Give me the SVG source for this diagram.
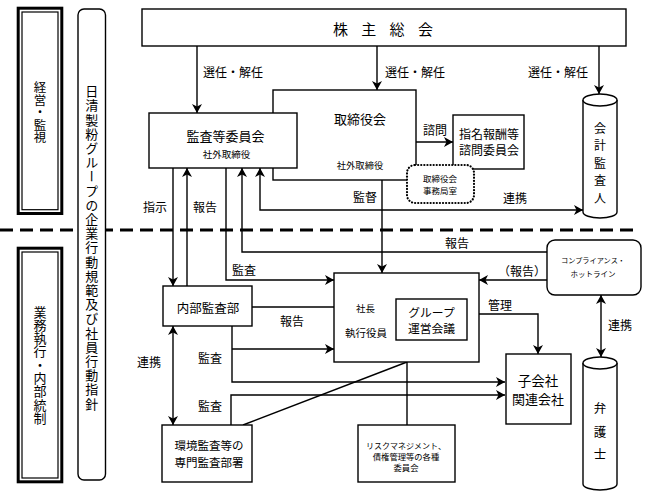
<svg xmlns="http://www.w3.org/2000/svg" width="648" height="497" viewBox="0 0 648 497">
<style>
text{font-family:"Noto Sans CJK JP","Noto Sans",sans-serif;fill:#000}
.box{fill:#fff;stroke:#000;stroke-width:1.4}
.ln{fill:none;stroke:#000;stroke-width:1.4}
.arr{marker-end:url(#ah)}
.arr2{marker-start:url(#ah);marker-end:url(#ah)}
.vt{writing-mode:vertical-rl;text-anchor:middle}
.c{text-anchor:middle}
.l12{font-size:12px}
</style>
<defs>
<marker id="ah" viewBox="0 0 9 10" refX="9" refY="5" markerWidth="9" markerHeight="10" markerUnits="userSpaceOnUse" orient="auto-start-reverse">
<path d="M0,0 L9,5 L0,10 L2.5,5 z" fill="#000"/>
</marker>
</defs>
<rect width="648" height="497" fill="#fff"/>

<line x1="0" y1="230" x2="640" y2="230" stroke="#000" stroke-width="3" stroke-dasharray="13 7"/>

<g id="side-top">
<rect x="18.2" y="8.2" width="43.6" height="205.3" fill="#fff" stroke="#000" stroke-width="3"/>
<rect x="22" y="12" width="36" height="197.7" fill="none" stroke="#000" stroke-width="1.2"/>
<text class="vt" x="40" y="112.5" font-size="12.5">経営・監視</text>
</g>
<g id="side-bottom">
<rect x="18.2" y="248.2" width="43.6" height="233.6" fill="#fff" stroke="#000" stroke-width="3"/>
<rect x="22" y="252" width="36" height="226" fill="none" stroke="#000" stroke-width="1.2"/>
<text class="vt" x="40" y="365" font-size="13" letter-spacing="0.3">業務執行・内部統制</text>
</g>
<g id="code-of-conduct">
<rect x="78" y="9" width="27.5" height="471" rx="6" class="box"/>
<text class="vt" x="91.8" y="248" font-size="13" letter-spacing="1.2">日清製粉グループの企業行動規範及び社員行動指針</text>
</g>

<g id="connectors">
<line class="ln arr" x1="197" y1="46" x2="197" y2="113"/>
<line class="ln arr" x1="377" y1="46" x2="377" y2="90"/>
<line class="ln arr" x1="599" y1="46" x2="599" y2="94"/>
<line class="ln arr" x1="297" y1="140" x2="339" y2="140"/>
<line class="ln arr" x1="416" y1="142" x2="453" y2="142"/>
<line class="ln arr" x1="173" y1="168" x2="173" y2="286"/>
<line class="ln arr" x1="187" y1="286" x2="187" y2="168"/>
<polyline class="ln arr" points="226,168 226,280 334,280"/>
<polyline class="ln arr" points="547,252 242,252 242,168"/>
<polyline class="ln arr2" points="260,168 260,210 583,210"/>
<line class="ln arr" x1="382" y1="180" x2="382" y2="273"/>
<line class="ln arr" x1="547" y1="280" x2="479" y2="280"/>
<line class="ln arr" x1="252" y1="307" x2="348" y2="307"/>
<polyline class="ln arr" points="232,326 232,382 505,382"/>
<line class="ln arr" x1="232" y1="349" x2="334" y2="349"/>
<polyline class="ln arr" points="231,425 231,395 505,395"/>
<line class="ln" x1="243" y1="425" x2="407" y2="362"/>
<line class="ln" x1="407" y1="362" x2="407" y2="425"/>
<line class="ln arr2" x1="173" y1="326" x2="173" y2="425"/>
<polyline class="ln arr" points="479,314 538,314 538,354"/>
<line class="ln arr2" x1="601" y1="295" x2="601" y2="357"/>
<g class="l12">
<text x="203" y="77">選任・解任</text>
<text x="385" y="77">選任・解任</text>
<text x="528" y="77">選任・解任</text>
<text x="303" y="135">監査</text>
<text x="423" y="135">諮問</text>
<text x="143" y="212">指示</text>
<text x="193" y="212">報告</text>
<text x="232" y="275">監査</text>
<text x="445" y="248">報告</text>
<text x="503" y="203">連携</text>
<text x="353" y="202">監督</text>
<text x="498" y="276">（報告）</text>
<text x="280" y="326">報告</text>
<text x="198" y="363">監査</text>
<text x="198" y="411">監査</text>
<text x="137" y="367">連携</text>
<text x="488" y="310">管理</text>
<text x="608" y="330">連携</text>
</g>
</g>

<g id="shareholders">
<rect x="142" y="9" width="484" height="37" class="box"/>
<text x="333 361.3 389.6 418" y="35" font-size="15">株主総会</text>
</g>
<g id="board">
<rect x="273" y="90" width="143" height="90" class="box"/>
<text class="c" x="360" y="124" font-size="13">取締役会</text>
<text class="c" x="360" y="169" font-size="9.3">社外取締役</text>
</g>
<g id="audit-committee">
<rect x="149" y="113" width="148" height="55" class="box"/>
<text class="c" x="225.5" y="141" font-size="13">監査等委員会</text>
<text class="c" x="226.5" y="158" font-size="9.5">社外取締役</text>
</g>
<g id="nomination-committee">
<rect x="453" y="115" width="71" height="54" class="box"/>
<text class="c" x="489" y="138.5" font-size="12">指名報酬等</text>
<text class="c" x="489" y="154.5" font-size="12">諮問委員会</text>
</g>
<g id="board-office">
<rect x="407" y="165" width="67" height="38" rx="8" fill="#fff" stroke="#000" stroke-width="2.2" stroke-dasharray="0.1 3" stroke-linecap="round"/>
<text class="c" x="440" y="182" font-size="8.5">取締役会</text>
<text class="c" x="440" y="193.5" font-size="8.5">事務局室</text>
</g>
<g id="auditor">
<path d="M583,100 L583,212 A17,6 0 0 0 617,212 L617,100" class="box"/>
<ellipse cx="600" cy="100" rx="17" ry="6" class="box"/>
<g class="c" font-size="12">
<text x="600" y="132.5">会</text>
<text x="600" y="150">計</text>
<text x="600" y="167.5">監</text>
<text x="600" y="185">査</text>
<text x="600" y="202.5">人</text>
</g>
</g>
<g id="hotline">
<rect x="547" y="240" width="94" height="55" rx="8" class="box"/>
<text class="c" x="593" y="263" font-size="7.2">コンプライアンス・</text>
<text class="c" x="593" y="277" font-size="7.5">ホットライン</text>
</g>
<g id="president">
<rect x="334" y="273" width="145" height="89" class="box"/>
<text x="356" y="312" font-size="9.5">社長</text>
<text x="345" y="337" font-size="10.5">執行役員</text>
</g>
<g id="group-meeting">
<rect x="396" y="299" width="71" height="41" class="box"/>
<text class="c" x="431.5" y="317" font-size="11.8">グループ</text>
<text class="c" x="431.5" y="333" font-size="11.8">運営会議</text>
</g>
<g id="internal-audit">
<rect x="163" y="286" width="89" height="40" class="box"/>
<text class="c" x="208" y="313" font-size="12.5">内部監査部</text>
</g>
<g id="subsidiaries">
<rect x="506" y="354" width="65" height="70" class="box"/>
<text class="c" x="538" y="386" font-size="13.5">子会社</text>
<text class="c" x="538" y="404" font-size="13">関連会社</text>
</g>
<g id="env-audit">
<rect x="162" y="425" width="90" height="57" class="box"/>
<text class="c" x="209" y="450" font-size="11.5">環境監査等の</text>
<text class="c" x="209" y="467" font-size="11.5">専門監査部署</text>
</g>
<g id="committees">
<rect x="358" y="425" width="97" height="57" class="box"/>
<text class="c" x="406" y="448.5" font-size="8">リスクマネジメント、</text>
<text class="c" x="406" y="459.5" font-size="8.3">債権管理等の各種</text>
<text class="c" x="406" y="470.5" font-size="8.3">委員会</text>
</g>
<g id="lawyer">
<path d="M583,363 L583,484 A17,6 0 0 0 617,484 L617,363" class="box"/>
<ellipse cx="600" cy="363" rx="17" ry="6" class="box"/>
<g class="c" font-size="12.5">
<text x="600" y="412.5">弁</text>
<text x="600" y="436.5">護</text>
<text x="600" y="459">士</text>
</g>
</g>
</svg>
